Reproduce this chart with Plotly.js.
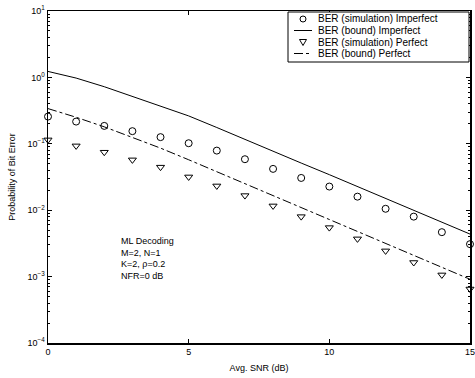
<!DOCTYPE html>
<html>
<head>
<meta charset="utf-8">
<script src="https://cdn.plot.ly/plotly-3.0.1.min.js"></script>
<style>html,body{margin:0;padding:0;background:#fff;}#chart{width:475px;height:378px;}</style>
</head>
<body>
<div id="chart"></div>
<script>
const snr = [0,1,2,3,4,5,6,7,8,9,10,11,12,13,14,15];
const simImperfect = [0.257,0.216,0.186,0.155,0.126,0.102,0.079,0.0586,0.0419,0.0306,0.0227,0.0160,0.0105,0.0080,0.00467,0.00308];
const boundImperfect = [1.23,0.977,0.724,0.519,0.372,0.263,0.176,0.116,0.0776,0.0513,0.0343,0.0226,0.0151,0.0100,0.0066,0.00437];
const simPerfect = [0.1145,0.093,0.0747,0.0573,0.0445,0.0317,0.0232,0.0166,0.0116,0.0080,0.00547,0.00370,0.00244,0.00163,0.00106,0.00065];
const boundPerfect = [0.339,0.251,0.180,0.126,0.0861,0.0575,0.038,0.0251,0.0166,0.0110,0.00724,0.00479,0.00316,0.00209,0.00138,0.000912];
const seriesNames = ['BER (simulation) Imperfect','BER (bound) Imperfect','BER (simulation) Perfect','BER (bound) Perfect'];
const yTickVals = [10,1,0.1,0.01,0.001,0.0001];
const yTickText = ['10<sup>1</sup>','10<sup>0</sup>','10<sup>−1</sup>','10<sup>−2</sup>','10<sup>−3</sup>','10<sup>−4</sup>'];
const xTickVals = [0,5,10,15];
const noteLines = ['ML Decoding','M=2, N=1','K=2, ρ=0.2','NFR=0 dB'];

const minorVals = [];
for (let e = -4; e < 1; e++) for (let m = 2; m <= 9; m++) minorVals.push(m * Math.pow(10, e));

const W = 475, H = 378, ML = 48, MR = 5, MT = 11, MB = 35;
const pw = W - ML - MR, ph = H - MT - MB;
const px = v => (v - ML) / pw;        // pixel x -> paper
const py = v => (H - MB - v) / ph;    // pixel y -> paper

const traces = [
  {x: snr, y: simImperfect, name: seriesNames[0], mode: 'markers', type: 'scatter', cliponaxis: false,
   marker: {symbol: 'circle-open', size: 7, color: '#000', line: {width: 1, color: '#000'}}},
  {x: snr, y: boundImperfect, name: seriesNames[1], mode: 'lines', type: 'scatter',
   line: {color: '#000', width: 1}},
  {x: snr, y: simPerfect, name: seriesNames[2], mode: 'markers', type: 'scatter', cliponaxis: false,
   marker: {symbol: 'triangle-down-open', size: 7, color: '#000', line: {width: 1, color: '#000'}}},
  {x: snr, y: boundPerfect, name: seriesNames[3], mode: 'lines', type: 'scatter',
   line: {color: '#000', width: 1, dash: 'dashdot'}}
];

const font = {family: 'Liberation Sans, Arial, sans-serif', size: 9, color: '#000'};
const legFont = {family: 'Liberation Sans, Arial, sans-serif', size: 10, color: '#000'};

// custom compact legend (MATLAB style)
const rows = [19, 30.5, 42, 53.5];
const symX = 303, textX = 316;
const shapes = [
  {type: 'rect', xref: 'paper', yref: 'paper', x0: px(288), x1: px(469), y0: py(62), y1: py(12),
   line: {color: '#000', width: 1}, fillcolor: '#fff', layer: 'above'},
  {type: 'circle', xref: 'paper', yref: 'paper', xsizemode: 'pixel', ysizemode: 'pixel',
   xanchor: px(symX), yanchor: py(rows[0]), x0: -3, x1: 3, y0: -3, y1: 3,
   line: {color: '#000', width: 1}, layer: 'above'},
  {type: 'line', xref: 'paper', yref: 'paper', x0: px(294), x1: px(312), y0: py(rows[1]), y1: py(rows[1]),
   line: {color: '#000', width: 1}, layer: 'above'},
  {type: 'path', xref: 'paper', yref: 'paper', xsizemode: 'pixel', ysizemode: 'pixel',
   xanchor: px(symX), yanchor: py(rows[2]), path: 'M-3.5,2.5 L3.5,2.5 L0,-3.5 Z',
   line: {color: '#000', width: 1}, layer: 'above'},
  {type: 'line', xref: 'paper', yref: 'paper', x0: px(294), x1: px(312), y0: py(rows[3]), y1: py(rows[3]),
   line: {color: '#000', width: 1, dash: 'dashdot'}, layer: 'above'}
];
const annotations = seriesNames.map((n, i) => ({
  xref: 'paper', yref: 'paper', x: px(textX), y: py(rows[i]), xanchor: 'left', yanchor: 'middle',
  showarrow: false, text: n, font: legFont
}));
annotations.push({x: 2.52, y: -2.36, xref: 'x', yref: 'y', xanchor: 'left', yanchor: 'top', align: 'left',
                  showarrow: false, text: noteLines.join('<br>'), font: font});

const layout = {
  width: W, height: H,
  margin: {l: ML, r: MR, t: MT, b: MB, pad: 0},
  paper_bgcolor: '#fff', plot_bgcolor: '#fff',
  font: font,
  showlegend: false,
  xaxis: {range: [0, 15], tickvals: xTickVals, ticks: 'inside', ticklen: 4, tickcolor: '#000',
          showline: true, linecolor: '#000', linewidth: 1.5, mirror: 'allticks', showgrid: false, zeroline: false,
          ticklabeloverflow: 'allow', tickfont: font, title: {text: 'Avg. SNR (dB)', font: font, standoff: 8}},
  yaxis: {type: 'log', range: [-4, 1], tickvals: yTickVals, ticktext: yTickText, ticks: 'inside', ticklen: 4,
          tickcolor: '#000', showline: true, linecolor: '#000', linewidth: 1.5, mirror: 'allticks',
          showgrid: false, zeroline: false, tickfont: font, ticklabeloverflow: 'allow',
          minor: {tickvals: minorVals, ticks: 'inside', ticklen: 2, tickcolor: '#000', showgrid: false},
          title: {text: 'Probability of Bit Error', font: font, standoff: 10}},
  shapes: shapes,
  annotations: annotations
};

Plotly.newPlot('chart', traces, layout, {staticPlot: true, displayModeBar: false});
</script>
</body>
</html>
